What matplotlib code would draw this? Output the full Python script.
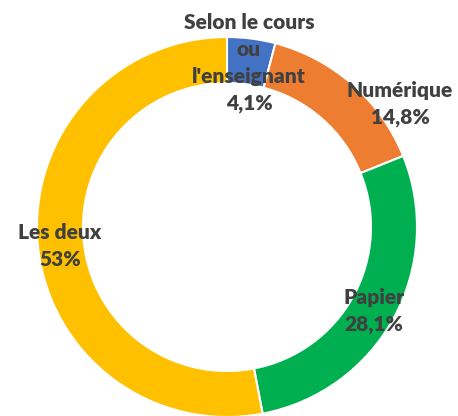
import matplotlib.pyplot as plt

# data
categories = ["Selon le cours\nou\nl'enseignant", "Numérique", "Papier", "Les deux"]
values = [4.1, 14.8, 28.1, 53.0]
value_labels = ["4,1%", "14,8%", "28,1%", "53%"]
colors = ["#4472C4", "#ED7D31", "#00B050", "#FFC000"]

W, H = 458, 416
fig = plt.figure(figsize=(W / 100, H / 100), dpi=100)
ax = fig.add_axes([0, 0, 1, 1])

# donut in pixel units
cx, cy, r = 227, H - 227, 190
ax.pie(values, colors=colors, startangle=90, counterclock=False,
       center=(cx, cy), radius=r, frame=True,
       wedgeprops=dict(width=46, edgecolor='white', linewidth=1.5))
ax.set_xlim(0, W)
ax.set_ylim(0, H)
ax.set_aspect('equal')
ax.axis('off')

# label anchor points (pixel, from top)
label_pos = [(249, 63), (400, 104), (374, 311), (60, 246)]
font = dict(family=['Lato', 'DejaVu Sans'], fontweight='heavy', fontsize=15,
            color='#404040', ha='center', va='center', linespacing=1.5)
for cat, val, (x, y) in zip(categories, value_labels, label_pos):
    ax.text(x, H - y, cat + "\n" + val, **font)

fig.savefig('out.png', dpi=100, facecolor='white')
